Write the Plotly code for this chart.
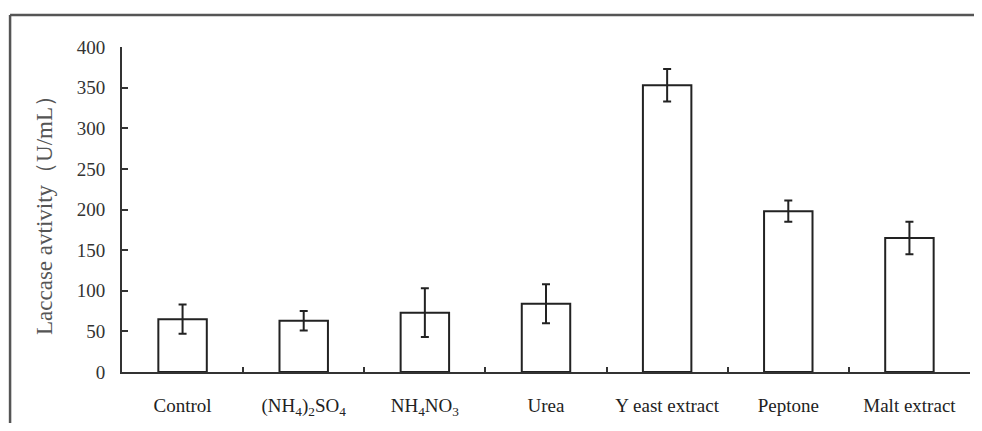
import plotly.graph_objects as go

categories = ["Control", "(NH<sub>4</sub>)<sub>2</sub>SO<sub>4</sub>", "NH<sub>4</sub>NO<sub>3</sub>",
              "Urea", "Y east extract", "Peptone", "Malt extract"]
activity = [65, 63, 73, 84, 353, 198, 165]
errors = [18, 12, 30, 24, 20, 13, 20]
y_ticks = [0, 50, 100, 150, 200, 250, 300, 350, 400]

font_family = "Liberation Serif, Times New Roman, serif"

fig = go.Figure(go.Bar(
    x=categories, y=activity,
    width=0.4,
    marker=dict(color="white", line=dict(color="#222222", width=2)),
    error_y=dict(type="data", array=errors, visible=True, color="#222222", thickness=2, width=4),
))

border = dict(color="#555555", width=2.5)

fig.update_layout(
    width=966, height=415,
    margin=dict(l=114, r=4, t=39, b=51),
    plot_bgcolor="white", paper_bgcolor="white",
    showlegend=False,
    font=dict(family=font_family, size=19, color="#222222"),
    xaxis=dict(
        automargin=False,
        showline=True, linecolor="#333333", linewidth=2,
        ticks="inside", tickson="boundaries", ticklen=5, tickcolor="#333333", tickwidth=2,
        range=[-0.5, 6.5], showgrid=False,
        ticklabelstandoff=15,
        tickfont=dict(family=font_family, size=19, color="#222222"),
    ),
    yaxis=dict(
        automargin=False,
        range=[0, 400], tickvals=y_ticks,
        showline=True, linecolor="#333333", linewidth=2,
        ticks="inside", ticklen=6, tickcolor="#333333", tickwidth=2,
        showgrid=False, zeroline=False,
        ticklabelstandoff=11,
        tickfont=dict(family=font_family, size=19, color="#333333"),
        title=dict(text="Laccase avtivity（U/mL）", font=dict(family=font_family, size=23, color="#555555"), standoff=18),
    ),
    shapes=[
        dict(type="line", xref="paper", yref="paper",
             x0=-0.132, x1=-0.132, y0=-0.3, y1=1.0985, line=border, layer="below"),
        dict(type="line", xref="paper", yref="paper",
             x0=-0.132, x1=1.1, y0=1.0985, y1=1.0985, line=border, layer="below"),
    ],
)

fig.write_html("out.html")
